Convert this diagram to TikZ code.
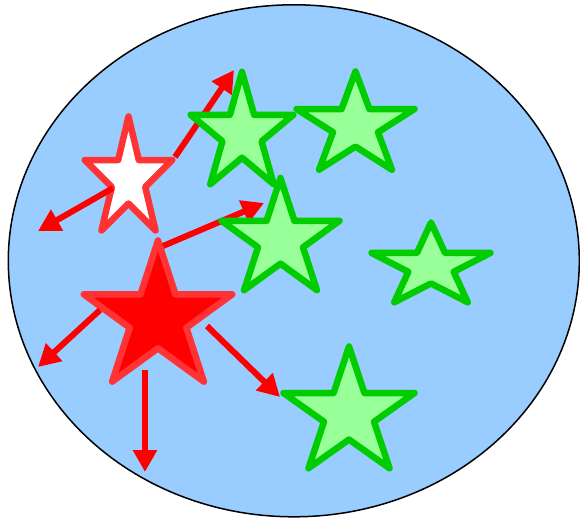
\documentclass[tikz,border=0pt]{standalone}
\usepackage{xcolor}
\usepackage{tikz}
\usetikzlibrary{arrows.meta}

\definecolor{skyfill}{HTML}{99CCFF}
\definecolor{gline}{HTML}{00CC00}
\definecolor{gfill}{HTML}{99FF99}
\definecolor{rline}{HTML}{FF3333}

\tikzset{
  starline/.style={line width=6.5pt, line join=round},
  gstar/.style={starline, draw=gline, fill=gfill},
  rarrow/.style={draw=red, line width=6pt, -{Triangle[length=22pt,width=23pt]}}
}

% five pointed star: centre, outer radius, vertical stretch
\newcommand{\fivestar}[5][]{%
  \draw[#1] plot[samples at={0,...,9}, variable=\k]
    ({#2+#4*(0.691+0.309*cos(180*\k))*cos(90+36*\k)},
     {#3-#5*#4*(0.691+0.309*cos(180*\k))*sin(90+36*\k)}) -- cycle;}

\begin{document}
\begin{tikzpicture}[x=1pt,y=-1pt]
    \useasboundingbox (0,0) rectangle (580,521);
    \draw[fill=skyfill, line width=1.5pt] (293.8,260.8) ellipse [x radius=285.5, y radius=256];

    % white and red star
    \fivestar[starline, draw=rline, fill=white]{128.5}{179.5}{46}{1.37}
    \fivestar[starline, draw=rline, fill=red]{158}{318.5}{78}{1}

    % arrows
    \coordinate (from1) at (175,157);  \coordinate (to1) at (234,70);
    \coordinate (from2) at (113,188);  \coordinate (to2) at (38,231);
    \coordinate (from3) at (163,246);  \coordinate (to3) at (264,203);
    \coordinate (from4) at (100,310);  \coordinate (to4) at (38,367);
    \coordinate (from5) at (207,326);  \coordinate (to5) at (280,397);
    \coordinate (from6) at (145,370);  \coordinate (to6) at (145,472);
    \foreach \i in {1,...,6}
        \draw[rarrow] (from\i) -- (to\i);

    % green stars
    \foreach \cx/\cy/\r/\s in {242/134/54/1.15, 355.5/125.8/62/0.876,
        280.5/240/62/1, 431/266.6/62.5/0.706, 349/413.8/68.9/0.977}
        {\fivestar[gstar]{\cx}{\cy}{\r}{\s}}
\end{tikzpicture}
\end{document}
